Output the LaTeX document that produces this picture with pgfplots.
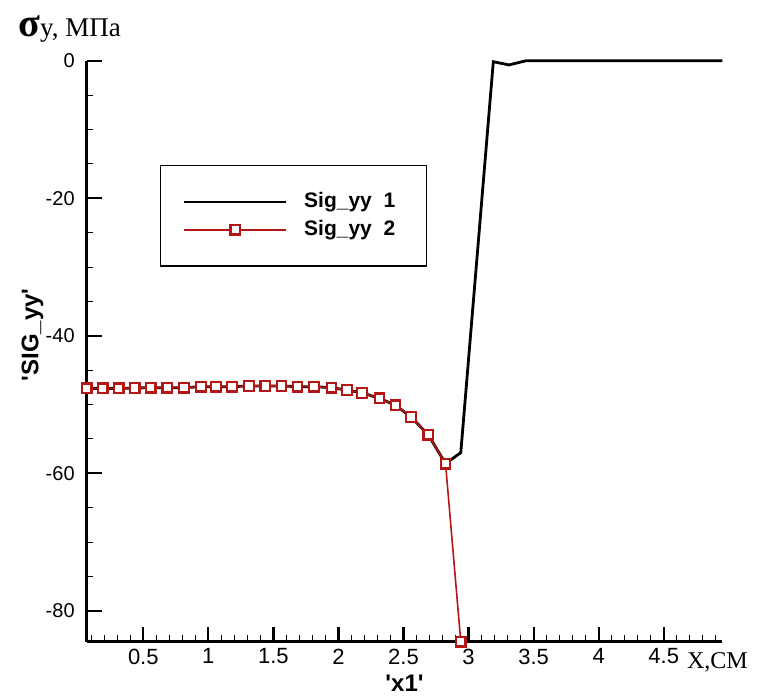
\documentclass[border=0pt]{standalone}
\usepackage{fontspec}
\setmainfont{Liberation Sans}
\newfontfamily\tnr{Liberation Serif}
\usepackage{pgfplots}
\pgfplotsset{compat=1.18}
\definecolor{sigred}{RGB}{180,22,22}
\pgfplotstableread{
x y
0.065 -47.65
0.188 -47.65
0.311 -47.65
0.434 -47.6
0.557 -47.55
0.685 -47.55
0.813 -47.55
0.942 -47.4
1.059 -47.4
1.182 -47.4
1.311 -47.3
1.438 -47.3
1.562 -47.3
1.685 -47.4
1.813 -47.4
1.946 -47.55
2.065 -47.9
2.182 -48.3
2.315 -49.1
2.438 -50.1
2.557 -51.8
2.690 -54.4
2.823 -58.6
2.940 -57.0
3.190 -0.13
3.310 -0.6
3.440 0
4.950 0
}\sigone
\pgfplotstableread{
x y
0.065 -47.65
0.188 -47.65
0.311 -47.65
0.434 -47.6
0.557 -47.55
0.685 -47.55
0.813 -47.55
0.942 -47.4
1.059 -47.4
1.182 -47.4
1.311 -47.3
1.438 -47.3
1.562 -47.3
1.685 -47.4
1.813 -47.4
1.946 -47.55
2.065 -47.9
2.182 -48.3
2.315 -49.1
2.438 -50.1
2.557 -51.8
2.690 -54.4
2.823 -58.6
2.940 -84.5
}\sigtwo
\begin{document}
\begin{tikzpicture}
\useasboundingbox (-43.35pt,-26.65pt) rectangle (338.65pt,320.85pt);
\begin{axis}[
  scale only axis, width=317.8pt, height=290.45pt,
  xmin=0.065, xmax=4.95, ymin=-84.5, ymax=0,
  axis x line=bottom, axis y line=left,
  axis line style={-, line width=1.4pt},
  tick align=inside,
  xtick={0.5,1,1.5,2,2.5,3,3.5,4,4.5},
  xticklabels={0.5,1,1.5,2,2.5,3,3.5,4,4.5},
  minor xtick={0.1,0.2,0.3,0.4,0.6,0.7,0.8,0.9,1.1,1.2,1.3,1.4,1.6,1.7,1.8,1.9,2.1,2.2,2.3,2.4,2.6,2.7,2.8,2.9,3.1,3.2,3.3,3.4,3.6,3.7,3.8,3.9,4.1,4.2,4.3,4.4,4.6,4.7,4.8,4.9},
  ytick={-80,-60,-40,-20,0},
  yticklabels={-80,-60,-40,-20,0},
  minor ytick={-75,-70,-65,-55,-50,-45,-35,-30,-25,-15,-10,-5},
  major tick length=7.5pt, minor tick length=3.3pt,
  every major tick/.append style={line width=1.1pt, black},
  every minor tick/.append style={line width=0.5pt, black},
  xticklabel style={font=\fontsize{11}{13}\selectfont},
  yticklabel style={font=\fontsize{10}{12}\selectfont, xshift=-2.5pt},
  xlabel={\textquotesingle x1\textquotesingle},
  ylabel={\textquotesingle SIG\_yy\textquotesingle},
  x label style={font=\bfseries\fontsize{12}{14}\selectfont, at={(axis description cs:0.5,0)}, anchor=center, yshift=-21pt},
  y label style={font=\bfseries\fontsize{12}{14}\selectfont, at={(axis description cs:-0.0853,0.528)}, anchor=center},
  clip=false,
  legend image code/.code={\draw[mark repeat=2,mark phase=2,#1] plot coordinates {(0pt,0pt) (25.5pt,0pt) (51pt,0pt)};},
  legend style={at={(rel axis cs:0.115,0.8205)}, anchor=north west, draw=black, line width=0.6pt, fill=white,
    inner xsep=11.2pt, inner ysep=11.2pt, row sep=0pt, column sep=4pt,
    font=\bfseries\fontsize{10.5}{12}\selectfont,
    nodes={inner xsep=4.3pt, inner ysep=2pt, text height=7.7pt, text depth=2.2pt}},
  legend cell align=left,
]
\addplot[black, line width=1.4pt, no markers] table[x=x,y=y]{\sigone};
\addlegendentry{Sig\_yy~~1}
\addplot[sigred, line width=0.8pt, mark=square*, mark size=2.4pt, mark options={fill=white, draw=sigred, line width=1.1pt}] table[x=x,y=y]{\sigtwo};
\addlegendentry{Sig\_yy~~2}
\end{axis}
\node[anchor=base west, inner sep=0pt] at (-34.35pt,302.5pt) {{\tnr\bfseries\fontsize{20}{21}\selectfont σ}{\tnr\fontsize{13.5}{15}\selectfont y, МПа}};
\node[anchor=base west, inner sep=0pt] at (300pt,-13.3pt) {\tnr\fontsize{12}{14}\selectfont X,СМ};
\end{tikzpicture}
\end{document}
